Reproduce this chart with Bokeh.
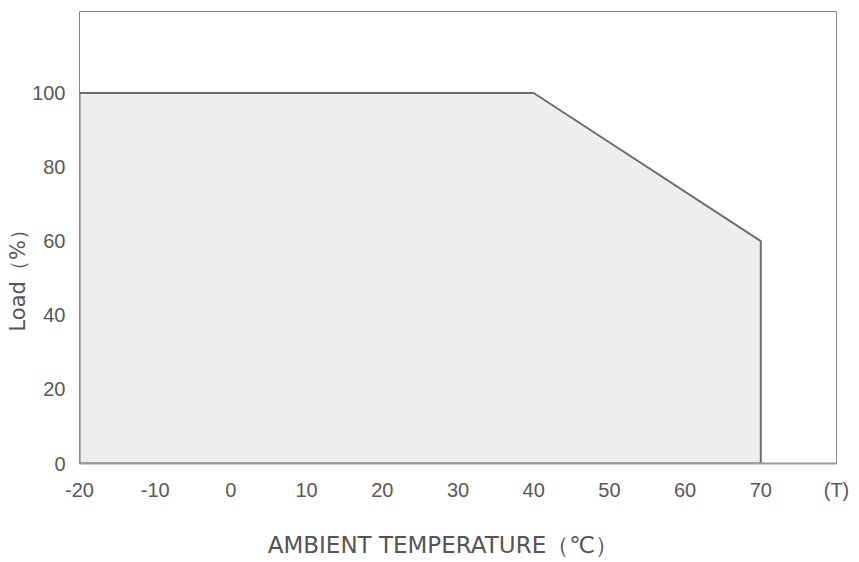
from bokeh.plotting import figure
from bokeh.models import FixedTicker, Range1d, Title, LinearAxis
from bokeh.embed import file_html
from bokeh.resources import INLINE

temp = [-20, -20, 40, 70, 70]
load = [0, 100, 100, 60, 0]
x_ticks = [-20, -10, 0, 10, 20, 30, 40, 50, 60, 70, 80]
x_tick_labels = {-20: "-20", -10: "-10", 80: "(T)"}
y_ticks = [0, 20, 40, 60, 80, 100]
x_title = "AMBIENT TEMPERATURE（℃）"
y_title = "Load（%）"
x_title_at = 28

p = figure(width=850, height=560, output_backend="svg", toolbar_location=None,
           x_range=Range1d(-20, 80), y_range=Range1d(0, 122),
           min_border_left=79, min_border_right=14, min_border_top=11, min_border_bottom=96)
p.grid.visible = False
p.background_fill_color = "white"
p.outline_line_color = "#858585"
p.outline_line_width = 1

p.patch(temp, load, fill_color="#eeeeee", line_color="#6e6e6e", line_width=2)

p.xaxis.ticker = FixedTicker(ticks=x_ticks)
p.yaxis.ticker = FixedTicker(ticks=y_ticks)
p.xaxis.major_label_overrides = x_tick_labels
for ax in (p.xaxis, p.yaxis):
    ax.major_tick_line_color = None
    ax.minor_tick_line_color = None
    ax.major_label_text_font = "Liberation Sans"
    ax.major_label_text_font_size = "20px"
    ax.major_label_text_color = "#585858"
p.xaxis.axis_line_color = "#9a9a9a"
p.xaxis.axis_line_width = 2
p.yaxis.axis_line_color = None
p.xaxis.major_label_standoff = 9
p.yaxis.major_label_standoff = 8

# x-axis title drawn as the single label of a second, line-less axis
title_axis = LinearAxis(ticker=FixedTicker(ticks=[x_title_at]),
                        major_label_overrides={x_title_at: x_title})
title_axis.axis_line_color = None
title_axis.major_tick_line_color = None
title_axis.minor_tick_line_color = None
title_axis.major_label_standoff = 22
title_axis.major_label_text_font = "DejaVu Sans"
title_axis.major_label_text_font_size = "23px"
title_axis.major_label_text_color = "#555555"
p.add_layout(title_axis, "below")

p.add_layout(Title(text=y_title, align="left", offset=132, standoff=0,
                   text_font="DejaVu Sans", text_font_size="21px", text_font_style="normal",
                   text_color="#555555"), "left")

open("out.html", "w").write(file_html(p, INLINE))
